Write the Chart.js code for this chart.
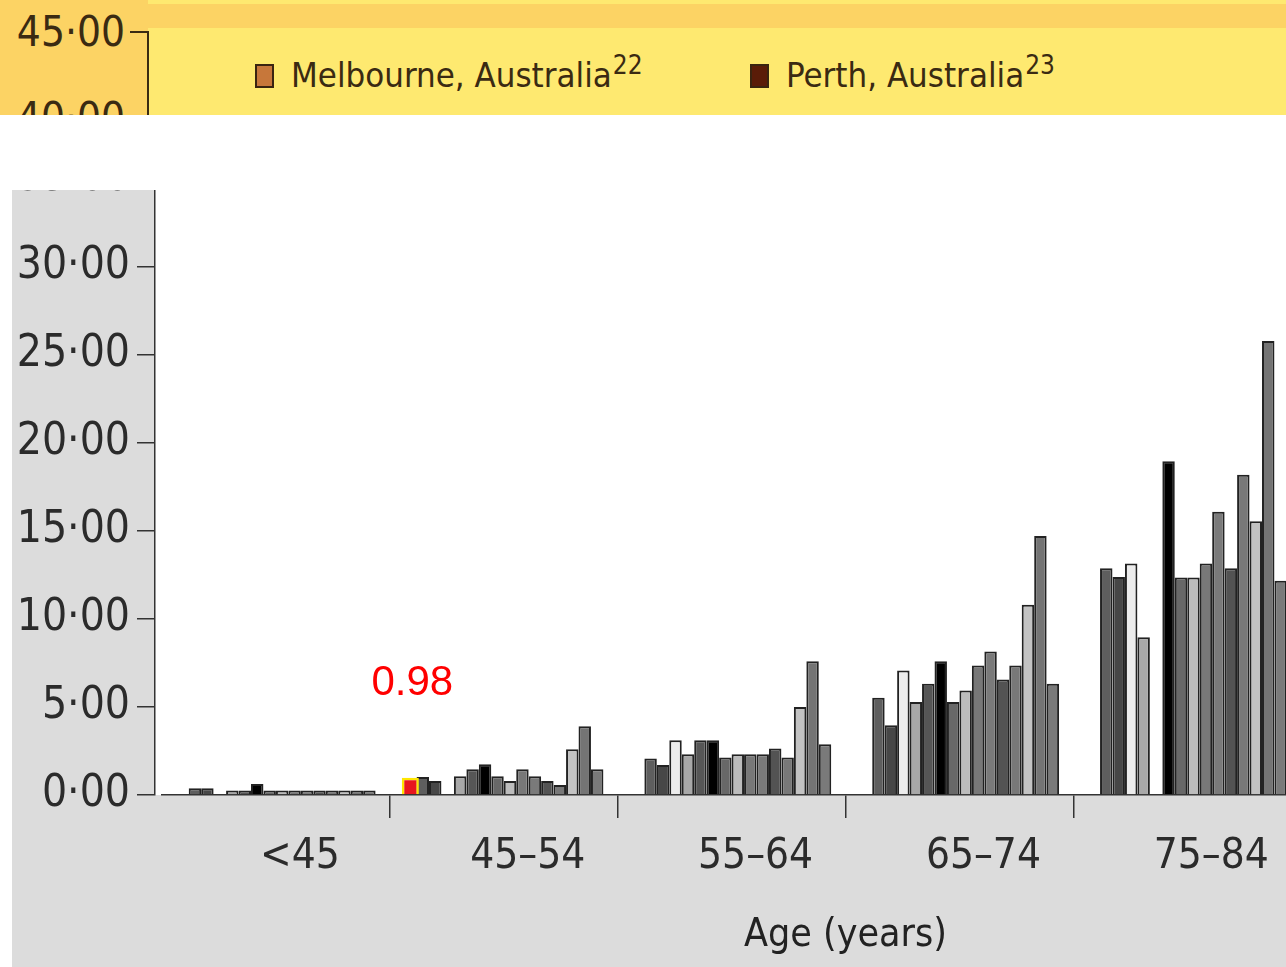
<!DOCTYPE html>
<html>
<head>
<meta charset="utf-8">
<title>Prevalence by age</title>
<script src="https://cdn.jsdelivr.net/npm/chart.js@4.4.1/dist/chart.umd.min.js"></script>
<style>
  html, body { margin: 0; padding: 0; width: 1286px; height: 967px; overflow: hidden; background: #fff; }
  body { position: relative; font-family: 'DejaVu Sans Condensed', 'Liberation Sans', sans-serif; color: #3a2a12; }

  /* yellow strip at the top (legend) */
  #strip { position: absolute; left: 0; top: 0; width: 1286px; height: 115px; background: #fee970; overflow: hidden; }
  #strip .band { position: absolute; left: 0; top: 4px; width: 1286px; height: 24px; background: #fcd364; }
  #strip .col { position: absolute; left: 0; top: 0; width: 148px; height: 115px; background: #fcd364; }
  #strip .axis { position: absolute; left: 147px; top: 31px; width: 2px; height: 90px; background: #3a2a12; }
  #strip .tick { position: absolute; left: 130px; width: 18px; height: 2px; background: #3a2a12; }
  #strip .tlabel { position: absolute; right: 1161px; font-size: 42px; line-height: 48px; }
  #strip .leg { position: absolute; top: 51px; font-size: 34.5px; line-height: 48px; white-space: nowrap; }
  #strip .leg .sw { display: inline-block; width: 15px; height: 20px; border: 2px solid #3a2410; margin-right: 17px; vertical-align: -1px; }
  #strip .leg sup { font-size: 26px; line-height: 0; vertical-align: 13px; margin-left: 1px; }

  /* grey panel with the chart */
  #panel { position: absolute; left: 12px; top: 190px; width: 1274px; height: 777px; overflow: hidden; background: #dcdcdc; }
  #chart { position: absolute; left: 0; top: -40px; }
</style>
</head>
<body>

<div id="strip">
  <div class="band"></div>
  <div class="col"></div>
  <div class="axis"></div>
  <div class="tick" style="top: 31px;"></div>
  <div class="tick" style="top: 117px;"></div>
  <div class="tlabel" style="top: 8px;">45·00</div>
  <div class="tlabel" style="top: 94px;">40·00</div>
  <div class="leg" style="left: 255px;"><span class="sw" style="background: #c7773a;"></span>Melbourne, Australia<sup>22</sup></div>
  <div class="leg" style="left: 750px;"><span class="sw" style="background: #5a1c08;"></span>Perth, Australia<sup>23</sup></div>
</div>

<div id="panel">
  <canvas id="chart" width="1517" height="817"></canvas>
</div>

<script>
// age groups (the last one is cut off by the picture's right edge)
const ageGroups = ['<45', '45–54', '55–64', '65–74', '75–84', ''];

// highlighted value (red bar)
const highlight = [null, 0.98, null, null, null, null];

// one array per study, values per age group
const study01 = [0.38, 1.02, 2.07, 5.53, 12.89, null];
const study02 = [0.38, 0.80, 1.70, 3.96, 12.39, null];
const study03 = [null, null, 3.11, 7.07, 13.15, null];
const study04 = [0.25, 1.07, 2.32, 5.28, 8.96, null];
const study05 = [0.25, 1.47, 3.11, 6.32, null, null];
const study06 = [0.62, 1.75, 3.11, 7.60, 18.96, null];
const study07 = [0.25, 1.07, 2.13, 5.28, 12.36, null];
const study08 = [0.25, 0.80, 2.32, 5.94, 12.36, null];
const study09 = [0.25, 1.47, 2.32, 7.36, 13.15, null];
const study10 = [0.25, 1.07, 2.32, 8.15, 16.09, null];
const study11 = [0.25, 0.80, 2.64, 6.56, 12.89, null];
const study12 = [0.25, 0.57, 2.13, 7.36, 18.20, null];
const study13 = [0.25, 2.60, 5.00, 10.81, 15.56, null];
const study14 = [0.25, 3.90, 7.60, 14.71, 25.79, null];
const study15 = [0.25, 1.47, 2.89, 6.32, 12.17, null];

const studies = [study01, study02, study03, study04, study05, study06, study07, study08,
                 study09, study10, study11, study12, study13, study14, study15];
const greys = ['#5e5e5e', '#474747', '#ececec', '#a8a8a8', '#565656', '#000000', '#686868', '#bcbcbc',
               '#787878', '#7a7a7a', '#535353', '#787878', '#c3c3c3', '#747474', '#7a7a7a'];

// y tick values
const yMin = 0;
const yMax = 35;
const yStep = 5;

const condensed = "'DejaVu Sans Condensed', 'Liberation Sans', sans-serif";

// white background behind the plot
const plotBg = {
    id: 'plotBg',
    beforeDraw(chart) {
        const { ctx, chartArea, scales } = chart;
        ctx.save();
        ctx.fillStyle = '#ffffff';
        ctx.fillRect(scales.y.right, 0, chart.width - scales.y.right, chartArea.bottom);
        ctx.restore();
    }
};

// red value above the highlighted bar
const valueLabel = {
    id: 'valueLabel',
    afterDatasetsDraw(chart) {
        const meta = chart.getDatasetMeta(0);
        const ctx = chart.ctx;
        highlight.forEach((v, i) => {
            if (v === null) return;
            const bar = meta.data[i];
            ctx.save();
            ctx.fillStyle = '#ff0000';
            ctx.font = "42px 'Liberation Sans', Arial, sans-serif";
            ctx.textAlign = 'center';
            ctx.textBaseline = 'alphabetic';
            ctx.fillText(v.toFixed(2), bar.x + 2, bar.y - 83);
            ctx.restore();
        });
    }
};

const datasets = [{
    label: 'highlight',
    data: highlight,
    backgroundColor: '#e8161e',
    borderColor: '#ffe600',
    borderWidth: 2.5,
    barPercentage: 1.37,
}];
studies.forEach((values, i) => {
    datasets.push({
        label: 'Study ' + (i + 1),
        data: values,
        backgroundColor: greys[i],
        borderColor: '#222222',
        borderWidth: 2,
    });
});

new Chart(document.getElementById('chart'), {
    type: 'bar',
    data: { labels: ageGroups, datasets: datasets },
    plugins: [plotBg, valueLabel],
    options: {
        responsive: false,
        animation: false,
        devicePixelRatio: 1,
        categoryPercentage: 0.875,
        barPercentage: 1,
        layout: { padding: { top: 27, left: 0, right: 0, bottom: 0 } },
        plugins: {
            legend: { display: false },
            tooltip: { enabled: false },
        },
        scales: {
            x: {
                offset: true,
                ticks: {
                    color: '#2b2b2b',
                    font: { family: condensed, size: 42 },
                    padding: 14,
                    labelOffset: 24,
                    maxRotation: 0,
                    autoSkip: false,
                },
                grid: {
                    offset: true,
                    drawOnChartArea: false,
                    tickLength: 23,
                    lineWidth: 1.5,
                    color: (c) => c.index === 0 ? 'rgba(0,0,0,0)' : '#333333',
                },
                border: { color: '#333333', width: 1.5 },
                title: {
                    display: true,
                    text: 'Age (years)',
                    color: '#222222',
                    font: { family: condensed, size: 39 },
                    padding: { top: 0, bottom: 8 },
                },
                afterFit: (s) => { s.height = 172; },
            },
            y: {
                position: 'left',
                weight: 1,
                min: yMin,
                max: yMax,
                ticks: {
                    stepSize: yStep,
                    color: '#2b2b2b',
                    font: { family: condensed, size: 44, lineHeight: 1 },
                    padding: 7,
                    callback: (v) => v.toFixed(2).replace('.', '·'),
                },
                grid: { drawOnChartArea: false, tickLength: 18, lineWidth: 1.5, color: '#333333' },
                border: { color: '#333333', width: 1.5 },
                afterFit: (s) => { s.width = 143; },
            },
            // small empty gap between the y axis line and the start of the x axis
            gap: {
                position: 'left',
                weight: 0,
                ticks: { display: false },
                grid: { display: false },
                border: { display: false },
                afterFit: (s) => { s.width = 7; },
            },
        },
    },
});
</script>
</body>
</html>
